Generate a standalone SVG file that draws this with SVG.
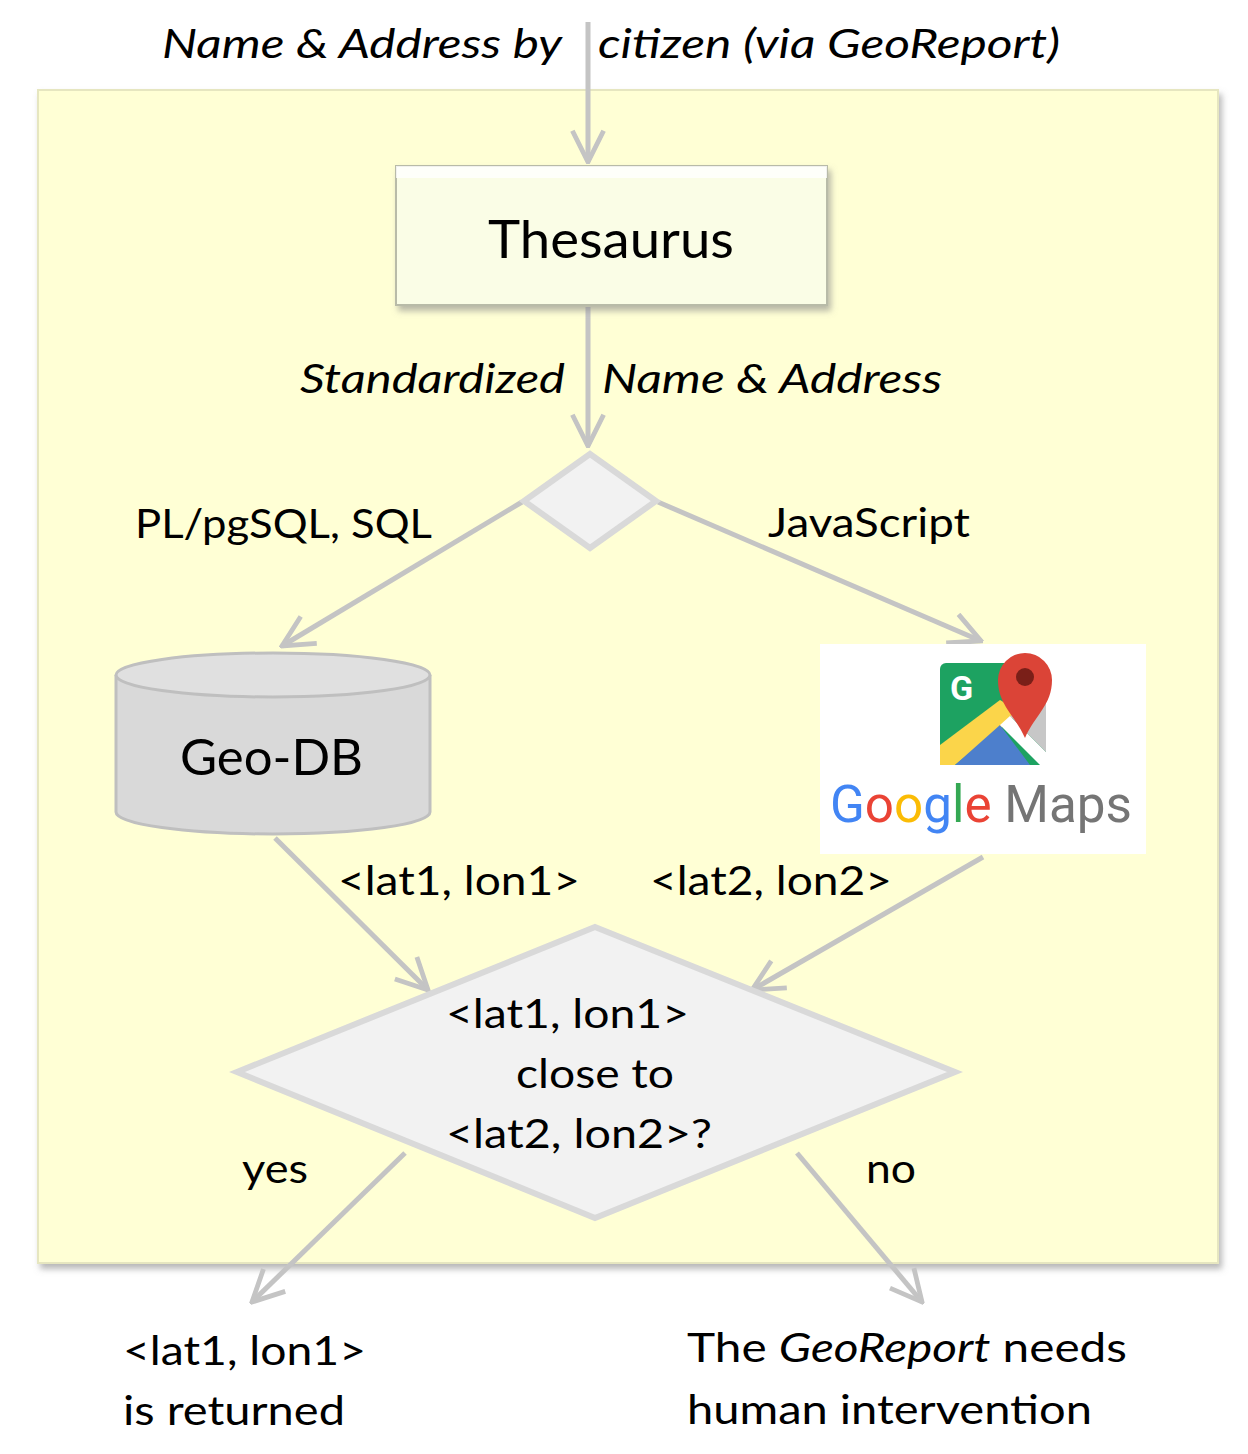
<svg xmlns="http://www.w3.org/2000/svg" width="1248" height="1454" viewBox="0 0 1248 1454">
<style>
.t{font-family:Lato,"Open Sans","Liberation Sans",sans-serif;fill:#000}
.i{font-style:italic}
.c{stroke:#C4C4C4;stroke-width:5;fill:none;marker-end:url(#ah2)}
</style>
<defs>
<marker id="ah2" viewBox="0 0 30 30" refX="28" refY="15" markerWidth="36" markerHeight="36" markerUnits="userSpaceOnUse" orient="auto">
<path d="M2,2 L28,15 L2,28" fill="none" stroke="#C4C4C4" stroke-width="4"/>
</marker>
<filter id="sh" x="-5%" y="-5%" width="110%" height="115%"><feDropShadow dx="3" dy="5" stdDeviation="3" flood-color="#888" flood-opacity="0.6"/></filter>
</defs>
<rect id="panel" x="38" y="90" width="1180" height="1173" fill="#FFFFD5" stroke="#E6E6C0" stroke-width="2" filter="url(#sh)"/>
<g id="connectors">
<line class="c" x1="588" y1="22" x2="588" y2="162"/>
<line class="c" x1="588" y1="307" x2="588" y2="446"/>
<line class="c" x1="522" y1="502" x2="282" y2="646"/>
<line class="c" x1="658" y1="502" x2="981" y2="641"/>
<line class="c" x1="275" y1="838" x2="428" y2="990"/>
<line class="c" x1="983" y1="857" x2="752" y2="990"/>
<line class="c" x1="405" y1="1153" x2="252" y2="1302"/>
<line class="c" x1="797" y1="1153" x2="922" y2="1302"/>
</g>
<g id="labels">
<text class="t i" x="162" y="58" font-size="41" textLength="400" lengthAdjust="spacingAndGlyphs">Name &amp; Address by</text>
<text class="t i" x="598" y="58" font-size="41" textLength="462" lengthAdjust="spacingAndGlyphs">citizen (via GeoReport)</text>
<text class="t i" x="300" y="393" font-size="41" textLength="265" lengthAdjust="spacingAndGlyphs">Standardized</text>
<text class="t i" x="602" y="393" font-size="41" textLength="340" lengthAdjust="spacingAndGlyphs">Name &amp; Address</text>
<text class="t" x="135" y="538" font-size="41" textLength="297" lengthAdjust="spacingAndGlyphs">PL/pgSQL, SQL</text>
<text class="t" x="768" y="537" font-size="41" textLength="202" lengthAdjust="spacingAndGlyphs">JavaScript</text>
<text class="t" x="338" y="895" font-size="41" textLength="242" lengthAdjust="spacingAndGlyphs">&lt;lat1, lon1&gt;</text>
<text class="t" x="650" y="895" font-size="41" textLength="242" lengthAdjust="spacingAndGlyphs">&lt;lat2, lon2&gt;</text>
<text class="t" x="242" y="1183" font-size="41" textLength="66" lengthAdjust="spacingAndGlyphs">yes</text>
<text class="t" x="866" y="1183" font-size="41" textLength="50" lengthAdjust="spacingAndGlyphs">no</text>
</g>
<g id="thesaurus">
<rect x="396" y="166" width="431" height="139" fill="#FAFDE6" stroke="#B8BBA8" stroke-width="2" filter="url(#sh)"/>
<rect x="396" y="166" width="431" height="12" fill="#FFFFFF" opacity="0.8"/>
<text class="t" x="488" y="258" font-size="52" textLength="246" lengthAdjust="spacingAndGlyphs">Thesaurus</text>
</g>
<g id="decision1">
<polygon points="590,454 656,501 590,548 524,501" fill="#F2F2F2" stroke="#D9D9D9" stroke-width="6"/>
</g>
<g id="geodb">
<path d="M116,675 L116,812 A157,22 0 0 0 430,812 L430,675" fill="#D9D9D9" stroke="#BFBFBF" stroke-width="3"/>
<ellipse cx="273" cy="675" rx="157" ry="22" fill="#E0E0E0" stroke="#BFBFBF" stroke-width="3"/>
<text class="t" x="180" y="775" font-size="50" textLength="183" lengthAdjust="spacingAndGlyphs">Geo-DB</text>
</g>
<g id="googlemaps">
<rect x="820" y="644" width="326" height="210" fill="#FFFFFF"/>
<rect x="940" y="663" width="106" height="102" rx="6" fill="#1DA261"/>
<polygon points="940,765 940,745 1000,700 1020,712 955,765" fill="#FBD54A"/>
<polygon points="955,765 1000,725 1030,765" fill="#4D7FCC"/>
<polygon points="1000,725 1010,716 1046,752 1046,765 1040,765" fill="#FFFFFF"/>
<polygon points="1010,716 1046,700 1046,752" fill="#C7C7C7"/>
<path d="M1025,738 C1015,715 998,705 998,680 A27,27 0 0 1 1052,680 C1052,705 1035,715 1025,738 Z" fill="#DB4437"/>
<circle cx="1025" cy="677" r="9" fill="#7A1F18"/>
<text x="950" y="700" font-family="Roboto,sans-serif" font-size="34" font-weight="bold" fill="#FFFFFF">G</text>
<text x="830" y="822" font-family="Roboto,'Open Sans',sans-serif" font-size="52" textLength="302" lengthAdjust="spacingAndGlyphs"><tspan fill="#4285F4">G</tspan><tspan fill="#EA4335">o</tspan><tspan fill="#FBBC05">o</tspan><tspan fill="#4285F4">g</tspan><tspan fill="#34A853">l</tspan><tspan fill="#EA4335">e</tspan><tspan fill="#757575"> Maps</tspan></text>
</g>
<g id="decision2">
<polygon points="595,927 955,1072 595,1218 237,1072" fill="#F2F2F2" stroke="#D9D9D9" stroke-width="6"/>
<text class="t" x="446" y="1028" font-size="41" textLength="243" lengthAdjust="spacingAndGlyphs">&lt;lat1, lon1&gt;</text>
<text class="t" x="516" y="1088" font-size="41" textLength="158" lengthAdjust="spacingAndGlyphs">close to</text>
<text class="t" x="446" y="1148" font-size="41" textLength="266" lengthAdjust="spacingAndGlyphs">&lt;lat2, lon2&gt;?</text>
</g>
<g id="result-yes">
<text class="t" x="123" y="1365" font-size="41" textLength="243" lengthAdjust="spacingAndGlyphs">&lt;lat1, lon1&gt;</text>
<text class="t" x="123" y="1425" font-size="41" textLength="222" lengthAdjust="spacingAndGlyphs">is returned</text>
</g>
<g id="result-no">
<text class="t" x="687" y="1362" font-size="41" textLength="440" lengthAdjust="spacingAndGlyphs">The <tspan class="i">GeoReport</tspan> needs</text>
<text class="t" x="687" y="1424" font-size="41" textLength="405" lengthAdjust="spacingAndGlyphs">human intervention</text>
</g>
</svg>
